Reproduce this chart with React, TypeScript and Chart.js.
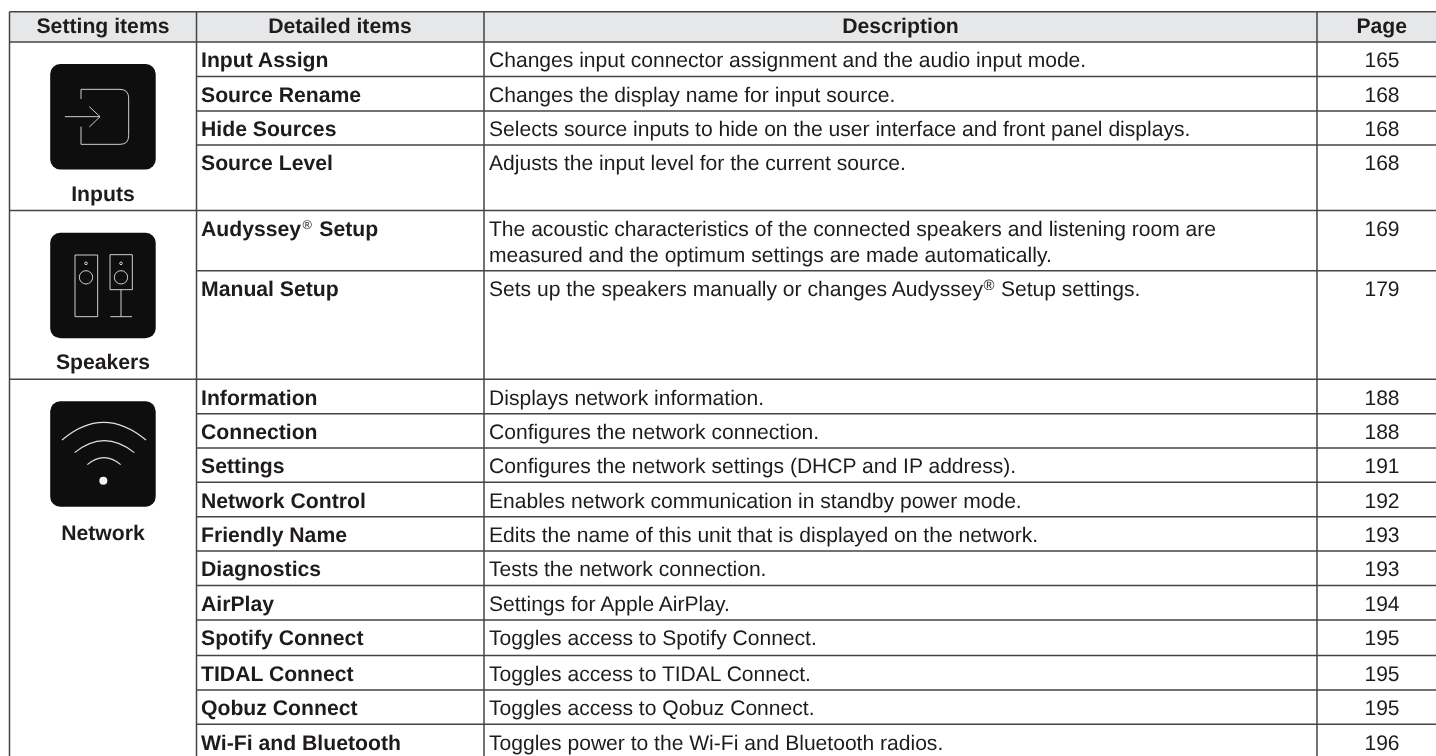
import React, { useEffect, useRef } from "react";
import { Chart, registerables } from "chart.js";

Chart.register(...registerables);

const headers = ["Setting items", "Detailed items", "Description", "Page"];
const groups = ["Inputs", "Speakers", "Network"];
const details = [
  "Input Assign", "Source Rename", "Hide Sources", "Source Level",
  "Audyssey® Setup", "Manual Setup",
  "Information", "Connection", "Settings", "Network Control", "Friendly Name",
  "Diagnostics", "AirPlay", "Spotify Connect", "TIDAL Connect", "Qobuz Connect", "Wi-Fi and Bluetooth",
];
const descriptions = [
  ["Changes input connector assignment and the audio input mode."],
  ["Changes the display name for input source."],
  ["Selects source inputs to hide on the user interface and front panel displays."],
  ["Adjusts the input level for the current source."],
  ["The acoustic characteristics of the connected speakers and listening room are", "measured and the optimum settings are made automatically."],
  ["Sets up the speakers manually or changes Audyssey® Setup settings."],
  ["Displays network information."],
  ["Configures the network connection."],
  ["Configures the network settings (DHCP and IP address)."],
  ["Enables network communication in standby power mode."],
  ["Edits the name of this unit that is displayed on the network."],
  ["Tests the network connection."],
  ["Settings for Apple AirPlay."],
  ["Toggles access to Spotify Connect."],
  ["Toggles access to TIDAL Connect."],
  ["Toggles access to Qobuz Connect."],
  ["Toggles power to the Wi-Fi and Bluetooth radios."],
];
const pages = ["165", "168", "168", "168", "169", "179", "188", "188", "191", "192", "193", "193", "194", "195", "195", "195", "196"];

// layout (in the pixel-valued linear scales)
const W = 1436, H = 756;
const colX = [9.5, 196.5, 484, 1317];
const headTop = 11.7, headBottom = 42;
const rowEdges = [42, 76.5, 111, 145, 210.5, 270.7, 379.3, 413.7, 448, 482.3, 516.7, 551, 585.5, 620, 655.5, 690, 724.3];
const groupEdges = [210.5, 379.3];
const groupLabelY = [201.3, 368.8, 540];
const iconTop = [64, 232.7, 401.2];
const iconLeft = 50.2, iconSize = 105.5;
const INK = "#1f1b1c", LINE = "#454547", HEAD = "#e6e7e8", ICON = "#0e0e0e", ICONLINE = "#e4e4e4";
const FS = 21.07, FSB = 21.2;

const seg = (x0: number, y0: number, x1: number, y1: number, w = 1.5) => ({
  type: "line" as const,
  data: [{ x: x0, y: y0 }, { x: x1, y: y1 }],
  borderColor: LINE,
  borderWidth: w,
  pointRadius: 0,
  tension: 0,
});

const lines = [
  seg(colX[0], headTop, W, headTop),
  seg(colX[0], headBottom, W, headBottom),
  ...colX.map((x) => seg(x, headTop, x, H)),
  ...groupEdges.map((y) => seg(colX[0], y, W, y)),
  ...rowEdges.filter((y) => y !== headBottom && !groupEdges.includes(y)).map((y) => seg(colX[1], y, W, y)),
];

function rich(ctx: CanvasRenderingContext2D, text: string, x: number, y: number, bold: boolean) {
  const parts = text.split("®");
  const weight = bold ? "bold" : "normal";
  const size = bold ? FSB : FS;
  const supSize = bold ? size * 0.6 : size * 0.71;
  const pad = bold ? 1.5 : 0.5;
  let cx = x;
  ctx.textAlign = "left";
  parts.forEach((p, i) => {
    ctx.font = `${weight} ${size}px "Liberation Sans"`;
    ctx.fillText(p, cx, y);
    cx += ctx.measureText(p).width;
    if (i < parts.length - 1) {
      ctx.font = `normal ${supSize}px "Liberation Sans"`;
      cx += pad;
      ctx.fillText("®", cx, y - 6.5);
      cx += ctx.measureText("®").width + pad;
    }
  });
}

const tablePlugin = {
  id: "table",
  beforeDatasetsDraw(chart: any) {
    const { ctx, scales } = chart;
    const X = (v: number) => scales.x.getPixelForValue(v);
    const Y = (v: number) => scales.y.getPixelForValue(v);
    ctx.save();
    ctx.fillStyle = HEAD;
    ctx.fillRect(X(colX[0]), Y(headTop), X(W) - X(colX[0]), Y(headBottom) - Y(headTop));
    ctx.restore();
  },
  afterDatasetsDraw(chart: any) {
    const { ctx, scales } = chart;
    const X = (v: number) => scales.x.getPixelForValue(v);
    const Y = (v: number) => scales.y.getPixelForValue(v);
    ctx.save();
    ctx.fillStyle = INK;
    ctx.textBaseline = "alphabetic";
    (ctx as any).textRendering = "geometricPrecision";
    (ctx as any).fontKerning = "normal";

    // header
    ctx.font = `bold ${FSB}px "Liberation Sans"`;
    ctx.textAlign = "center";
    const heads = [103, 340, 900.5, 1381.7];
    headers.forEach((h, i) => ctx.fillText(h, X(heads[i]), Y(33)));

    // groups
    groups.forEach((g, i) => ctx.fillText(g, X(103), Y(groupLabelY[i])));

    // rows
    details.forEach((d, i) => {
      const top = rowEdges[i];
      const base = top + 25.4;
      ctx.fillStyle = INK;
      rich(ctx, d, X(201), Y(base), true);
      descriptions[i].forEach((line, k) => rich(ctx, line, X(489), Y(base + k * 26.2), false));
      ctx.font = `normal ${FS}px "Liberation Sans"`;
      ctx.textAlign = "center";
      ctx.fillText(pages[i], X(1382), Y(base));
    });

    // icons
    iconTop.forEach((t, i) => {
      const ox = X(iconLeft), oy = Y(t);
      ctx.fillStyle = ICON;
      ctx.beginPath();
      ctx.roundRect(ox, oy, iconSize, iconSize, 10);
      ctx.fill();
      ctx.strokeStyle = ICONLINE;
      ctx.lineWidth = 0.9;
      const P = (px: number, py: number): [number, number] => [px, py];
      if (i === 0) {
        const m = (px: number, py: number) => P(px / 3, py / 3);
        ctx.beginPath();
        ctx.moveTo(...m(243, 297));
        ctx.lineTo(...m(243, 268));
        ctx.lineTo(...m(360, 268));
        ctx.quadraticCurveTo(...m(386, 268), ...m(386, 295));
        ctx.lineTo(...m(386, 407));
        ctx.quadraticCurveTo(...m(386, 433), ...m(360, 433));
        ctx.lineTo(...m(243, 433));
        ctx.lineTo(...m(243, 380));
        ctx.moveTo(...m(195, 350));
        ctx.lineTo(...m(300, 350));
        ctx.moveTo(...m(268, 320));
        ctx.lineTo(...m(300, 350));
        ctx.lineTo(...m(268, 381));
        ctx.stroke();
      } else if (i === 1) {
        const m = (px: number, py: number) => P(px / 3, 210 + py / 3);
        ctx.beginPath();
        ctx.rect(...m(225, 135), 68 / 3, 185 / 3);
        ctx.rect(...m(330, 134), 67 / 3, 105 / 3);
        ctx.moveTo(...m(363, 239));
        ctx.lineTo(...m(363, 320));
        ctx.moveTo(...m(331, 320));
        ctx.lineTo(...m(396, 320));
        ctx.stroke();
        [[258, 160, 4], [258, 202, 20], [363, 160, 4], [363, 202, 20]].forEach(([cx, cy, r]) => {
          ctx.beginPath();
          ctx.arc(...m(cx, cy), r / 3, 0, Math.PI * 2);
          ctx.stroke();
        });
      } else {
        const m = (px: number, py: number) => P(px / 3, 370 + py / 3);
        ctx.lineWidth = 1.1;
        [[186, 210, 310, 104, 438, 210], [224, 248, 312, 176, 403, 248], [262, 284, 312, 242, 362, 284]].forEach(
          ([a, b, c, d, e, f]) => {
            ctx.beginPath();
            ctx.moveTo(...m(a, b));
            ctx.quadraticCurveTo(...m(c, d), ...m(e, f));
            ctx.stroke();
          }
        );
        ctx.fillStyle = "#f4f4f4";
        ctx.beginPath();
        ctx.arc(...m(310, 332), 4, 0, Math.PI * 2);
        ctx.fill();
      }
    });
    ctx.restore();
  },
};

export default function App() {
  const ref = useRef<HTMLCanvasElement>(null);
  useEffect(() => {
    document.body.style.margin = "0";
    document.body.style.background = "#fff";
    const chart = new Chart(ref.current!, {
      type: "scatter",
      data: { datasets: lines as any },
      options: {
        animation: false,
        responsive: false,
        devicePixelRatio: 1,
        layout: { padding: 0 },
        plugins: { legend: { display: false }, tooltip: { enabled: false }, title: { display: false } },
        scales: {
          x: { type: "linear", min: 0, max: W, display: false },
          y: { type: "linear", min: 0, max: H, reverse: true, display: false },
        },
      },
      plugins: [tablePlugin as any],
    });
    return () => chart.destroy();
  }, []);
  return (
    <div style={{ position: "fixed", left: 0, top: 0, width: W, height: H, background: "#fff", overflow: "hidden" }}>
      <canvas ref={ref} width={W} height={H} style={{ display: "block", filter: "blur(0.35px)" }} />
    </div>
  );
}
